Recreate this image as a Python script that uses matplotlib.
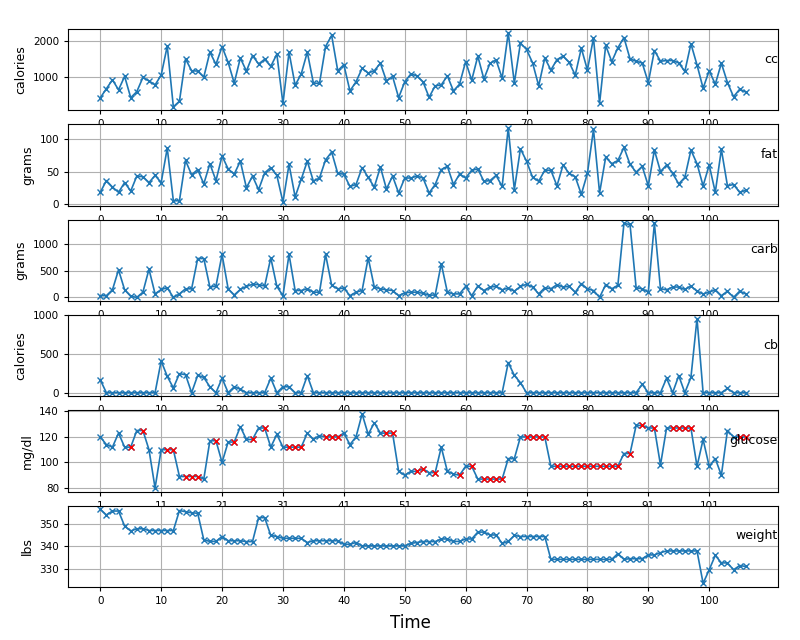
import matplotlib
matplotlib.use('Agg')
import matplotlib.pyplot as plt

calories = [440, 690, 935, 660, 1030, 445, 610, 1000, 905, 795, 1065, 1860, 195, 345, 1510, 1185, 1175, 1010, 1695, 1360,
            1845, 1415, 845, 1535, 1175, 1600, 1370, 1500, 1305, 1640, 285, 1695, 785, 1095, 1695, 845, 835, 1850, 2155, 1185,
            1350, 630, 880, 1250, 1120, 1185, 1390, 905, 1030, 445, 880, 1095, 1045, 880, 455, 770, 795, 1045, 630, 815,
            1435, 925, 1585, 955, 1390, 1480, 980, 2230, 845, 1945, 1770, 1400, 770, 1535, 1205, 1490, 1585, 1415, 1065, 1805,
            1205, 2085, 285, 1880, 1435, 1815, 2095, 1510, 1445, 1400, 860, 1740, 1445, 1465, 1465, 1400, 1165, 1925, 1345, 705,
            1185, 815, 1390, 860, 470, 675, 600]
fat = [18, 36, 26, 18, 33, 20, 43, 42, 33, 44, 33, 86, 5, 5, 67, 45, 53, 31, 62, 36,
       74, 54, 46, 66, 25, 43, 22, 48, 56, 44, 3, 61, 11, 38, 66, 35, 40, 68, 80, 47,
       46, 27, 30, 56, 41, 26, 57, 23, 43, 17, 40, 40, 43, 40, 17, 30, 53, 58, 30, 46,
       40, 52, 54, 35, 36, 44, 27, 117, 22, 85, 66, 41, 35, 52, 52, 28, 60, 47, 42, 15,
       47, 115, 17, 72, 62, 67, 87, 61, 49, 58, 28, 83, 50, 60, 47, 31, 41, 83, 62, 28,
       60, 18, 84, 28, 30, 18, 21]
carb = [32, 32, 142, 516, 142, 20, 0, 97, 529, 65, 148, 181, 0, 65, 161, 161, 729, 729, 194, 213,
        806, 161, 45, 148, 206, 245, 239, 213, 742, 206, 32, 806, 129, 129, 161, 97, 97, 806, 226, 161,
        174, 32, 97, 129, 742, 194, 161, 142, 129, 32, 84, 97, 97, 77, 40, 45, 632, 97, 65, 65,
        206, 32, 213, 129, 194, 206, 142, 174, 116, 206, 245, 194, 65, 181, 161, 239, 194, 206, 97, 258,
        161, 129, 0, 239, 161, 226, 1387, 1368, 181, 161, 97, 1390, 161, 142, 194, 194, 148, 213, 116, 65,
        97, 142, 32, 116, 0, 116, 65]
cb = [165, 0, 0, 0, 0, 0, 0, 0, 0, 0, 410, 210, 62, 245, 232, 0, 223, 196, 76, 0,
      187, 0, 76, 45, 0, 0, 0, 0, 187, 0, 76, 76, 0, 0, 219, 0, 0, 0, 0, 0,
      0, 0, 0, 0, 0, 0, 0, 0, 0, 0, 0, 0, 0, 0, 0, 0, 0, 0, 0, 0,
      0, 0, 0, 0, 0, 0, 0, 388, 223, 129, 0, 0, 0, 0, 0, 0, 0, 0, 0, 0,
      0, 0, 0, 0, 0, 0, 0, 0, 0, 107, 0, 0, 0, 187, 0, 219, 0, 196, 955, 0,
      0, 0, 0, 54, 0, 0, 0]
glucose = [120, 114, 112, 123, 112, 112, 125, 125, 110, 80, 110, 110, 110, 89, 89, 89, 89, 87, 117, 117,
           100, 116, 116, 128, 118, 118, 127, 127, 112, 122, 112, 112, 112, 112, 123, 118, 121, 120, 120, 120,
           123, 114, 120, 138, 122, 131, 123, 123, 123, 93, 90, 93, 93, 95, 92, 92, 112, 93, 91, 90,
           97, 97, 87, 87, 87, 87, 87, 103, 103, 120, 120, 120, 120, 120, 97, 97, 97, 97, 97, 97,
           97, 97, 97, 97, 97, 97, 107, 107, 129, 129, 127, 127, 98, 127, 127, 127, 127, 127, 97, 118,
           97, 103, 90, 125, 120, 120, 120]
glucose_filled = [5, 7, 11, 12, 14, 15, 16, 19, 22, 25, 27, 31, 32, 33, 37, 38, 39, 47, 48, 52, 53, 55,
                  59, 61, 63, 64, 65, 66, 70, 71, 72, 73, 75, 76, 77, 78, 79, 80, 81, 82, 83, 84, 85,
                  87, 89, 91, 94, 95, 96, 97, 105, 106]
weight = [356.8, 354.2, 356, 356, 349.2, 347, 348, 348, 347.2, 347.2, 347.2, 347.2, 347.2, 356.2, 355.7, 355.2, 355, 343, 342.3, 342.3,
          344.5, 342.6, 342.6, 342.6, 342.2, 342.2, 353, 353, 345, 344.5, 343.7, 343.7, 343.7, 343.7, 341.8, 342.6, 342.6, 342.6, 342.6, 342.6,
          341, 341, 341.8, 340.3, 340.3, 340.3, 340.3, 340.3, 340.3, 340.3, 340.3, 341.4, 341.8, 342.2, 342.2, 342.2, 343.4, 343.4, 342.3, 342.3,
          343.4, 343.4, 346.5, 346.5, 345.2, 345.2, 341.4, 342.3, 345, 344.5, 344.5, 344.5, 344.5, 344.5, 334.2, 334.2, 334.2, 334.2, 334.2, 334.2,
          334.2, 334.2, 334.2, 334.2, 334.2, 336.8, 334.2, 334.5, 334.5, 334.5, 336.2, 336.2, 337.2, 338, 338, 338, 338, 338, 338, 323.4,
          329.5, 336, 332.6, 332.6, 329.5, 331.4, 331]

side_labels = ['cc', 'fat', 'carb', 'cb', 'glucose', 'weight']
y_labels = ['calories', 'grams', 'grams', 'calories', 'mg/dl', 'lbs']
y_ticks = [[1000, 2000], [0, 50, 100], [0, 500, 1000], [0, 500, 1000], [80, 100, 120, 140], [330, 340, 350]]
series = [calories, fat, carb, cb, glucose, weight]

fig, axes = plt.subplots(6, 1, figsize=(8, 6.4), dpi=100)
fig.subplots_adjust(left=0.085, right=0.9725, top=0.9547, bottom=0.0828, hspace=0.17)

for k, ax in enumerate(axes):
    vals = series[k]
    if k == 4:
        xs = list(range(1, len(vals) + 1))
    else:
        xs = list(range(len(vals)))
    ax.plot(xs, vals, color='#1f77b4', marker='x', markersize=4.5, linewidth=1.2, markeredgewidth=1.0)
    if k == 4:
        fx = [xs[i] for i in glucose_filled]
        fy = [vals[i] for i in glucose_filled]
        ax.plot(fx, fy, linestyle='none', marker='x', color='red', markersize=4.5, markeredgewidth=1.0)
        ax.set_xticks(range(1, 102, 10))
        ax.set_xlim(-4.3, 112.3)
    else:
        ax.set_xticks(range(0, 101, 10))
        ax.set_xlim(-5.3, 111.3)
    ax.set_yticks(y_ticks[k])
    ax.grid(True, color='#b0b0b0', linewidth=0.8)
    ax.set_axisbelow(True)
    ax.tick_params(labelsize=7.5, length=3)
    ax.set_ylabel(y_labels[k], fontsize=9)
    ax.text(1.0, 0.63, side_labels[k], transform=ax.transAxes, ha='right', va='center', fontsize=9)

fig.text(410 / 800, 1 - 623 / 640, 'Time', ha='center', va='center', fontsize=12)

fig.savefig('out.png', dpi=100)
